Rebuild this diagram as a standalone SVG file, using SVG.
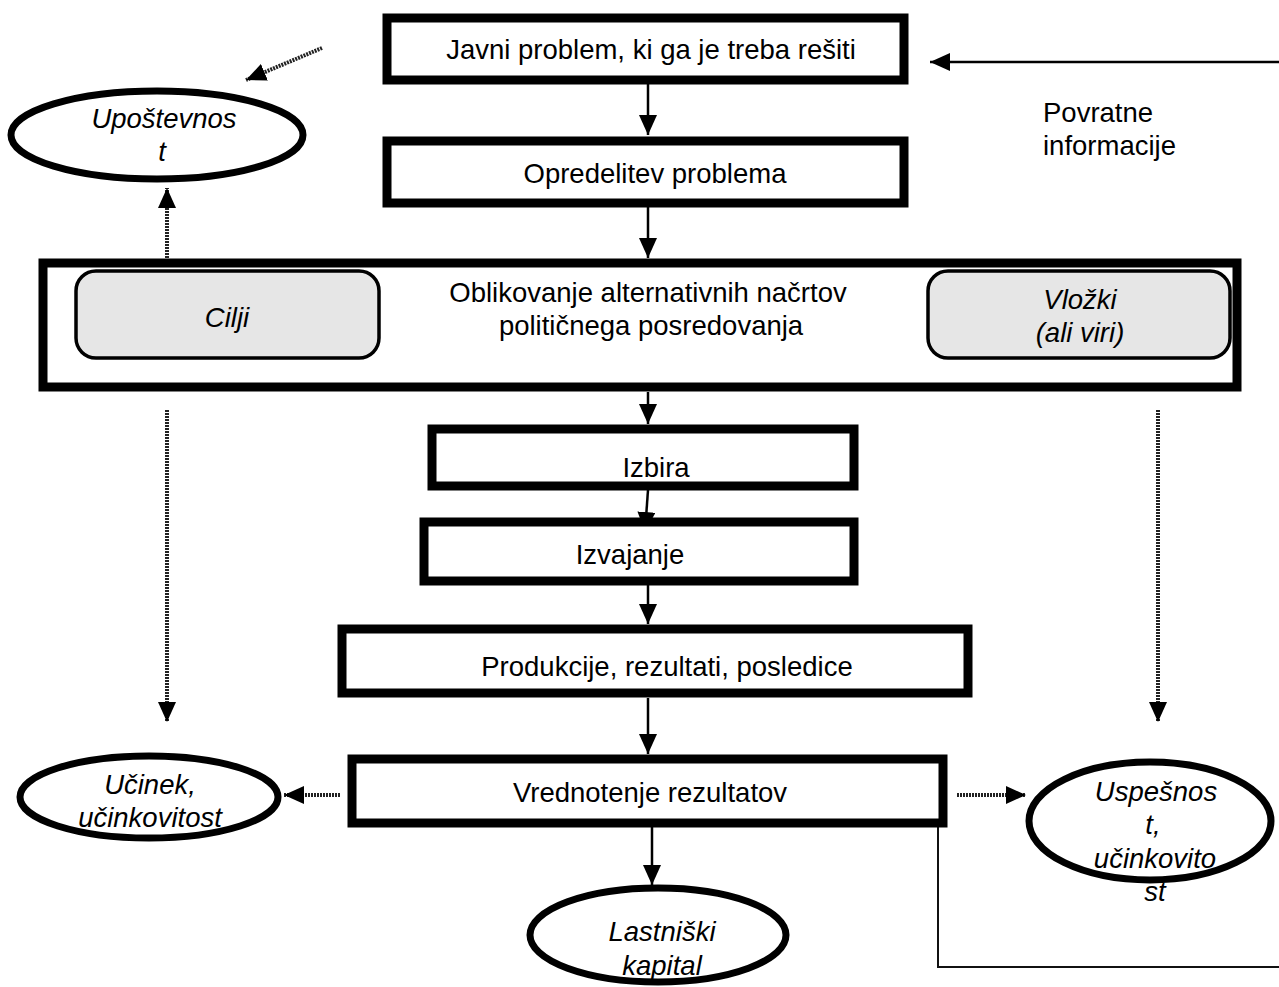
<svg xmlns="http://www.w3.org/2000/svg" width="1279" height="987" viewBox="0 0 1279 987">
<defs>
<marker id="ah" markerUnits="userSpaceOnUse" markerWidth="22" markerHeight="18" refX="20" refY="9" orient="auto">
<path d="M0,0 L20,9 L0,18 Z" fill="#000"/>
</marker>
<style>
.box{fill:#fff;stroke:#000;stroke-width:9}
.sub{fill:#e6e6e6;stroke:#000;stroke-width:3.5}
.ell{fill:#fff;stroke:#000;stroke-width:7}
.t{font-family:"Liberation Sans",Arial,sans-serif;font-size:27.5px;fill:#000;text-anchor:middle}
.i{font-style:italic}
.l{text-anchor:start}
.solid{fill:none;stroke:#000;stroke-width:2.5}
.dot{fill:none;stroke:#222;stroke-width:4;stroke-dasharray:2 1}
.thin{fill:none;stroke:#111;stroke-width:2}
</style>
</defs>
<rect width="1279" height="987" fill="#fff"/>

<g id="connectors">
<line class="solid" x1="648" y1="84" x2="648" y2="135" marker-end="url(#ah)"/>
<line class="solid" x1="648" y1="206" x2="648" y2="258" marker-end="url(#ah)"/>
<line class="solid" x1="648" y1="392" x2="648" y2="424" marker-end="url(#ah)"/>
<line class="solid" x1="648" y1="490" x2="645" y2="532" marker-end="url(#ah)"/>
<line class="solid" x1="648" y1="585" x2="648" y2="624" marker-end="url(#ah)"/>
<line class="solid" x1="648" y1="698" x2="648" y2="754" marker-end="url(#ah)"/>
<line class="solid" x1="652" y1="827" x2="652" y2="885" marker-end="url(#ah)"/>
<line class="solid" x1="1279" y1="62" x2="930" y2="62" marker-end="url(#ah)"/>
<line class="dot" x1="322" y1="48" x2="246" y2="80" marker-end="url(#ah)"/>
<line class="dot" x1="167" y1="258" x2="167" y2="188" marker-end="url(#ah)"/>
<line class="dot" x1="167" y1="410" x2="167" y2="722" marker-end="url(#ah)"/>
<line class="dot" x1="1158" y1="410" x2="1158" y2="722" marker-end="url(#ah)"/>
<line class="dot" x1="340" y1="795" x2="284" y2="795" marker-end="url(#ah)"/>
<line class="dot" x1="957" y1="795" x2="1026" y2="795" marker-end="url(#ah)"/>
<polyline class="thin" points="938,827 938,967 1279,967"/>
</g>

<g id="povratne">
<text class="t l" x="1043" y="122">Povratne</text>
<text class="t l" x="1043" y="155">informacije</text>
</g>
<g id="javni">
<rect class="box" x="387" y="18" width="517" height="62"/>
<text class="t" x="651" y="59">Javni problem, ki ga je treba rešiti</text>
</g>
<g id="opredelitev">
<rect class="box" x="387" y="141" width="517" height="62"/>
<text class="t" x="655" y="183">Opredelitev problema</text>
</g>
<g id="oblikovanje">
<rect class="box" x="43" y="263" width="1194" height="124"/>
<text class="t" x="648" y="302">Oblikovanje alternativnih načrtov</text>
<text class="t" x="651" y="335">političnega posredovanja</text>
</g>
<g id="cilji">
<rect class="sub" x="76" y="271" width="303" height="87" rx="20"/>
<text class="t i" x="227" y="327">Cilji</text>
</g>
<g id="vlozki">
<rect class="sub" x="928" y="271" width="302" height="87" rx="20"/>
<text class="t i" x="1080" y="309">Vložki</text>
<text class="t i" x="1080" y="342">(ali viri)</text>
</g>
<g id="izbira">
<rect class="box" x="432" y="429" width="422" height="57"/>
<text class="t" x="656" y="477">Izbira</text>
</g>
<g id="izvajanje">
<rect class="box" x="424" y="522" width="430" height="59"/>
<text class="t" x="630" y="564">Izvajanje</text>
</g>
<g id="produkcije">
<rect class="box" x="342" y="629" width="626" height="64"/>
<text class="t" x="667" y="676">Produkcije, rezultati, posledice</text>
</g>
<g id="vrednotenje">
<rect class="box" x="352" y="759" width="591" height="64"/>
<text class="t" x="650" y="802">Vrednotenje rezultatov</text>
</g>
<g id="upostevnost">
<ellipse class="ell" cx="157" cy="135" rx="146" ry="44"/>
<text class="t i" x="164" y="128">Upoštevnos</text>
<text class="t i" x="162" y="161">t</text>
</g>
<g id="ucinek">
<ellipse class="ell" cx="149" cy="797" rx="129" ry="41"/>
<text class="t i" x="150" y="794">Učinek,</text>
<text class="t i" x="150" y="827">učinkovitost</text>
</g>
<g id="uspesnost">
<ellipse class="ell" cx="1150" cy="821" rx="121" ry="59"/>
<text class="t i" x="1156" y="801">Uspešnos</text>
<text class="t i" x="1153" y="834">t,</text>
<text class="t i" x="1155" y="868">učinkovito</text>
<text class="t i" x="1155" y="901">st</text>
</g>
<g id="lastniski">
<ellipse class="ell" cx="658" cy="935" rx="128" ry="47"/>
<text class="t i" x="662" y="941">Lastniški</text>
<text class="t i" x="662" y="975">kapital</text>
</g>
</svg>
